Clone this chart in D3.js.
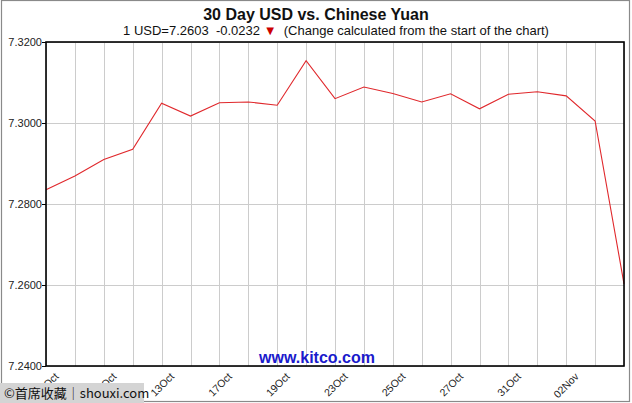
<!DOCTYPE html>
<html><head><meta charset="utf-8">
<script src="https://cdn.jsdelivr.net/npm/d3@7"></script>
<style>html,body{margin:0;padding:0;background:#fff;}svg{display:block;}</style>
</head><body>
<svg id="c" width="632" height="403"></svg>
<script>
const dates = ["09Oct","10Oct","11Oct","12Oct","13Oct","16Oct","17Oct","18Oct","19Oct","20Oct","23Oct","24Oct","25Oct","26Oct","27Oct","30Oct","31Oct","01Nov","02Nov","03Nov","06Nov"];
const values = [7.2835,7.2869,7.2910,7.2935,7.3049,7.3017,7.3050,7.3052,7.3044,7.3154,7.3060,7.3089,7.3073,7.3052,7.3072,7.3035,7.3071,7.3077,7.3067,7.3005,7.2603];
const labelDates = ["09Oct","11Oct","13Oct","17Oct","19Oct","23Oct","25Oct","27Oct","31Oct","02Nov"];
const yTicks = [7.24,7.26,7.28,7.30,7.32];

const svg = d3.select("#c");
const L=46,R=624,T=42,B=366;
const FONT = "Arial, 'Liberation Sans', sans-serif";
// outer frame
svg.append("rect").attr("x",1.5).attr("y",0.5).attr("width",628).attr("height",401).attr("fill","none").attr("stroke","#8a8a8a").attr("stroke-width",1.2);

const x = d3.scalePoint().domain(dates).range([L,R]);
const y = d3.scaleLinear().domain([7.24,7.32]).range([B,T]);

// grid
svg.append("g").selectAll("line").data(dates).join("line")
  .attr("x1",d=>Math.round(x(d))+0.5).attr("x2",d=>Math.round(x(d))+0.5).attr("y1",T).attr("y2",B)
  .attr("stroke","#cccccc").attr("stroke-width",1);
svg.append("g").selectAll("line").data(yTicks).join("line")
  .attr("x1",L).attr("x2",R).attr("y1",d=>Math.round(y(d))+0.5).attr("y2",d=>Math.round(y(d))+0.5)
  .attr("stroke","#cccccc").attr("stroke-width",1);

// kitco watermark
svg.append("text").attr("x",317).attr("y",363).attr("text-anchor","middle")
  .attr("font-family",FONT).attr("font-weight","bold").attr("font-size",16)
  .attr("fill","#1a1acc").text("www.kitco.com");

// line
svg.append("path").datum(values.map((v,i)=>[dates[i],v]))
  .attr("fill","none").attr("stroke","#e0282c").attr("stroke-width",1.1)
  .attr("d",d3.line().x(d=>x(d[0])).y(d=>y(d[1])));

// plot frame
svg.append("rect").attr("x",L).attr("y",T).attr("width",R-L).attr("height",B-T)
  .attr("fill","none").attr("stroke","#000").attr("stroke-width",1.6);

// y axis
const ya = svg.append("g").attr("transform",`translate(${L},0)`)
  .call(d3.axisLeft(y).tickValues(yTicks).tickFormat(d3.format(".4f")).tickSize(4).tickPadding(0));
ya.select(".domain").remove();
ya.selectAll("line").attr("stroke","#000");
ya.selectAll("text").attr("font-family",FONT).attr("font-size",11).attr("fill","#222");

// x labels
svg.append("g").selectAll("text").data(labelDates).join("text")
  .attr("transform",d=>`translate(${x(d)+8},${B+6}) rotate(-45)`)
  .attr("text-anchor","end").attr("dy","0.7em")
  .attr("font-family",FONT).attr("font-size",10.5).attr("fill","#222")
  .text(d=>d);

// titles
svg.append("text").attr("x",316).attr("y",20).attr("text-anchor","middle")
  .attr("font-family",FONT).attr("font-weight","bold").attr("font-size",16)
  .attr("fill","#111").text("30 Day USD vs. Chinese Yuan");
const sub = svg.append("text").attr("x",336).attr("y",35).attr("text-anchor","middle")
  .attr("font-family",FONT).attr("font-size",13).attr("fill","#111").style("white-space","pre");
sub.append("tspan").text("1 USD=7.2603  -0.0232 ");
sub.append("tspan").attr("fill","#cc0000").attr("font-size",13).text("▼");
sub.append("tspan").text("  (Change calculated from the start of the chart)");

// shouxi watermark
svg.append("rect").attr("x",0).attr("y",383).attr("width",144).attr("height",20).attr("fill","#d4d4d4");
svg.append("text").attr("x",4).attr("y",398)
  .attr("font-family","'Noto Sans CJK SC', sans-serif").attr("font-size",13).attr("fill","#111")
  .text("©首席收藏｜shouxi.com");
</script>
</body></html>
